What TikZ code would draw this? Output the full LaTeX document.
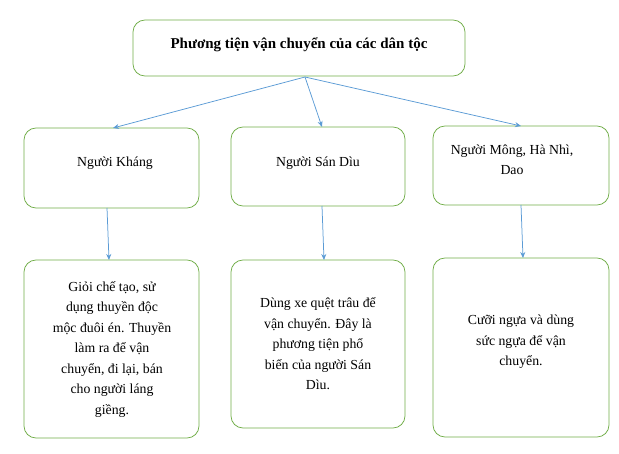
\documentclass[tikz,border=0pt]{standalone}
\usepackage{fontspec}
\setmainfont{Liberation Serif}
\usetikzlibrary{arrows.meta}
\definecolor{gr}{HTML}{70AD47}
\definecolor{bl}{HTML}{5B9BD5}
\begin{document}
\begin{tikzpicture}[x=1pt,y=-1pt,
  bx/.style={draw=gr,line width=0.75pt,rounded corners=12pt,fill=white},
  tx/.style={align=center,font=\fontsize{13.8}{20.5}\selectfont},
  ar/.style={draw=bl,line width=0.75pt,-{Stealth[length=6pt,width=5pt]}}]
\useasboundingbox (0,0) rectangle (619,454);
\draw[bx] (133,20) rectangle (465,76);
\node[tx,font=\fontsize{15}{18}\selectfont\bfseries] (t) at (299,45) {Phương tiện vận chuyển của các dân tộc};
\coordinate (ts) at (305,77);
\draw[bx] (24,128) rectangle (199,208);
\draw[bx] (231,127) rectangle (405,206);
\draw[bx] (433,126) rectangle (609,205);
\node[tx] (a) at (115,163) {Người Kháng};
\node[tx] (b) at (318,163) {Người Sán Dìu};
\node[tx] (c) at (512,160) {Người Mông, Hà Nhì,\\Dao};
\coordinate (a1) at (113,128); \coordinate (b1) at (322,127); \coordinate (c1) at (521,126);
\coordinate (a2) at (107,208); \coordinate (b2) at (322,206); \coordinate (c2) at (521,205);
\draw[bx] (24,260) rectangle (199,438);
\draw[bx] (231,260) rectangle (405,428);
\draw[bx] (433,258) rectangle (609,437);
\node[tx] (d) at (112,349) {Giỏi chế tạo, sử\\dụng thuyền độc\\mộc đuôi én. Thuyền\\làm ra để vận\\chuyển, đi lại, bán\\cho người láng\\giềng.};
\node[tx] (e) at (318,344) {Dùng xe quệt trâu để\\vận chuyển. Đây là\\phương tiện phổ\\biến của người Sán\\Dìu.};
\node[tx] (f) at (521,342) {Cưỡi ngựa và dùng\\sức ngựa để vận\\chuyển.};
\coordinate (d1) at (109,260); \coordinate (e1) at (324,260); \coordinate (f1) at (523,258);
\draw[ar] (ts) -- (a1);
\draw[ar] (ts) -- (b1);
\draw[ar] (ts) -- (c1);
\draw[ar] (a2) -- (d1);
\draw[ar] (b2) -- (e1);
\draw[ar] (c2) -- (f1);
\end{tikzpicture}
\end{document}
